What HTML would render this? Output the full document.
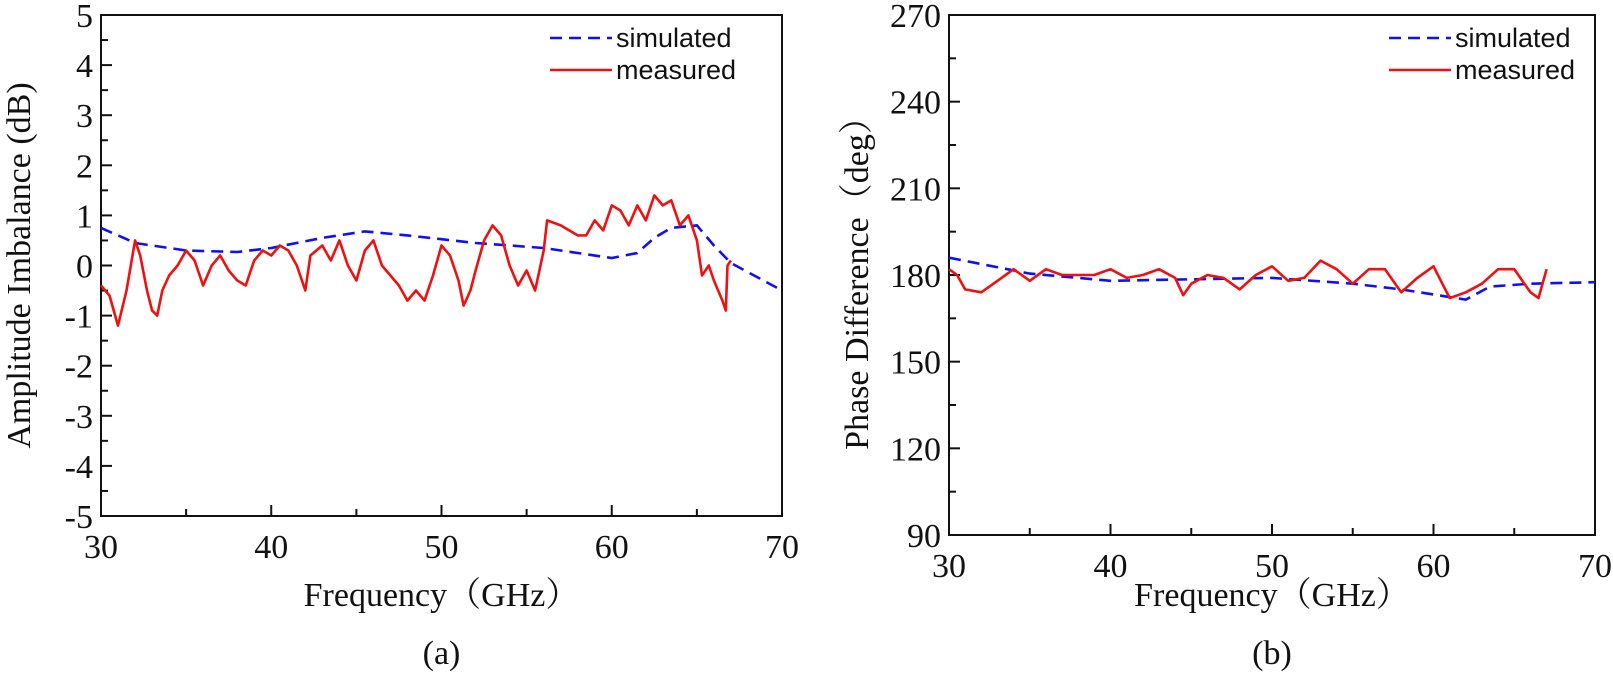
<!DOCTYPE html>
<html><head><meta charset="utf-8"><style>
body{margin:0;background:#fff;}
svg text{font-family:"Liberation Serif","Noto Serif CJK SC",serif;fill:#111;}
svg text.sans{font-family:"Liberation Sans",sans-serif;}
</style></head><body>
<svg id="chart" width="1613" height="677" viewBox="0 0 1613 677" xmlns="http://www.w3.org/2000/svg"></svg>
<script>
const ampSimX=[30,32,35,38,40,43,45.5,48,52,56,60,61.5,62.5,63.5,65,66,67,70];
const ampSimY=[0.75,0.45,0.3,0.27,0.35,0.55,0.68,0.6,0.45,0.35,0.15,0.25,0.55,0.75,0.8,0.4,0.05,-0.5];
const ampMeasX=[30,30.5,31,31.5,32,32.3,32.7,33,33.3,33.6,34,34.5,35,35.5,36,36.5,37,37.5,38,38.5,39,39.5,40,40.5,41,41.5,42,42.3,43,43.5,44,44.5,45,45.5,46,46.5,47,47.5,48,48.5,49,49.5,50,50.5,51,51.3,51.7,52,52.5,53,53.5,54,54.5,55,55.5,56,56.2,57,58,58.5,59,59.5,60,60.5,61,61.5,62,62.5,63,63.5,64,64.5,65,65.3,65.7,66,66.5,66.7,66.8,67];
const ampMeasY=[-0.4,-0.6,-1.2,-0.5,0.5,0.2,-0.5,-0.9,-1.0,-0.5,-0.2,0.0,0.3,0.1,-0.4,0.0,0.2,-0.1,-0.3,-0.4,0.1,0.3,0.2,0.4,0.3,0.0,-0.5,0.2,0.4,0.1,0.5,0.0,-0.3,0.3,0.5,0.0,-0.2,-0.4,-0.7,-0.5,-0.7,-0.2,0.4,0.2,-0.3,-0.8,-0.5,-0.1,0.5,0.8,0.6,0.0,-0.4,-0.1,-0.5,0.3,0.9,0.8,0.6,0.6,0.9,0.7,1.2,1.1,0.8,1.2,0.9,1.4,1.2,1.3,0.8,1.0,0.5,-0.2,0.0,-0.3,-0.7,-0.9,0.0,0.1];
const phSimX=[30,35,40,45,50,55,58,62,63.5,66,70];
const phSimY=[186,180.5,178,178.5,179,177,175,171.5,176,177,177.5];
const phMeasX=[30,30.5,31,32,33,34,35,36,37,38,39,40,41,42,43,44,44.5,45,46,47,48,49,50,51,52,53,54,55,56,57,58,59,60,61,62,63,64,65,66,66.5,67];
const phMeasY=[182,180,175,174,178,182,178,182,180,180,180,182,179,180,182,179,173,177,180,179,175,180,183,178,179,185,182,177,182,182,174,179,183,172,174,177,182,182,174,172,182];
const xTicks=[30,40,50,60,70];
const ampTicks=[-5,-4,-3,-2,-1,0,1,2,3,4,5];
const phTicks=[90,120,150,180,210,240,270];

const svg=document.getElementById('chart');
const NS='http://www.w3.org/2000/svg';
function mk(tag,attrs,parent){const e=document.createElementNS(NS,tag);for(const k in attrs)e.setAttribute(k,attrs[k]);(parent||svg).appendChild(e);return e;}

function panel(o){
  const g=mk('g',{});
  
  
  const sx=v=>o.L+(v-30)/(70-30)*(o.R-o.L);
  const sy=v=>o.B-(v-o.ymin)/(o.ymax-o.ymin)*(o.B-o.T);
  const frame=mk('rect',{x:o.L,y:o.T,width:o.R-o.L,height:o.B-o.T,fill:'none',stroke:'#111','stroke-width':2},g);
  
  
  for(let v=30;v<=70;v+=5){
    const major=v%10===0;
    mk('line',{x1:sx(v),x2:sx(v),y1:o.B,y2:o.B-(major?11:7),stroke:'#111','stroke-width':2},g);
  }
  xTicks.forEach(v=>{const t=mk('text',{x:sx(v),y:o.B+42,'text-anchor':'middle','font-size':34},g);t.textContent=v;
    });
  const step=o.ticks[1]-o.ticks[0];
  for(let i=0;i<o.ticks.length;i++){
    const v=o.ticks[i];
    mk('line',{x1:o.L,x2:o.L+11,y1:sy(v),y2:sy(v),stroke:'#111','stroke-width':2},g);
    if(i<o.ticks.length-1) mk('line',{x1:o.L,x2:o.L+7,y1:sy(v+step/2),y2:sy(v+step/2),stroke:'#111','stroke-width':2},g);
    const t=mk('text',{x:o.L-8,y:sy(v)+12,'text-anchor':'end','font-size':34},g);t.textContent=v;
    
  }
  const xt=mk('text',{x:(o.L+o.R)/2,y:o.xtY,'text-anchor':'middle','font-size':34},g);xt.textContent='Frequency（GHz）';
  
  const yt=mk('text',{x:0,y:0,'text-anchor':'middle','font-size':34,transform:`translate(${o.ytx},${(o.T+o.B)/2}) rotate(-90)`},g);yt.textContent=o.ytitle;
  
  const cap=mk('text',{x:(o.L+o.R)/2,y:o.capY,'text-anchor':'middle','font-size':34},g);cap.textContent=o.cap;
  
  const path=(xs,ys)=>xs.map((x,i)=>(i?'L':'M')+sx(x).toFixed(1)+','+sy(ys[i]).toFixed(1)).join(' ');
  const s=mk('path',{d:path(o.sx,o.sy),fill:'none',stroke:'#1010f0','stroke-width':2.6,'stroke-dasharray':'12,7'},g);
  
  const m=mk('path',{d:path(o.mx,o.my),fill:'none',stroke:'#f01010','stroke-width':2.6,'stroke-linejoin':'round'},g);
  
  const lg=mk('g',{},g);
  
  const lx=o.lx;
  mk('line',{x1:lx,x2:lx+62,y1:38,y2:38,stroke:'#1010f0','stroke-width':2.6,'stroke-dasharray':'12,7'},lg);
  const t1=mk('text',{x:lx+66,y:47,'font-size':27,'class':'sans'},lg);t1.textContent='simulated';
  
  mk('line',{x1:lx,x2:lx+62,y1:70,y2:70,stroke:'#f01010','stroke-width':2.6},lg);
  const t2=mk('text',{x:lx+66,y:79,'font-size':27,'class':'sans'},lg);t2.textContent='measured';
  
}
panel({name:'amplitude-panel',L:101,R:782,T:15,B:516,ymin:-5,ymax:5,ticks:ampTicks,ytitle:'Amplitude Imbalance (dB)',ytx:30,xtY:606,cap:'(a)',capY:664,lx:550,sx:ampSimX,sy:ampSimY,mx:ampMeasX,my:ampMeasY});
panel({name:'phase-panel',L:949,R:1595,T:15,B:535,ymin:90,ymax:270,ticks:phTicks,ytitle:'Phase Difference（deg）',ytx:868,xtY:606,cap:'(b)',capY:664,lx:1389,sx:phSimX,sy:phSimY,mx:phMeasX,my:phMeasY});
</script>
</body></html>
